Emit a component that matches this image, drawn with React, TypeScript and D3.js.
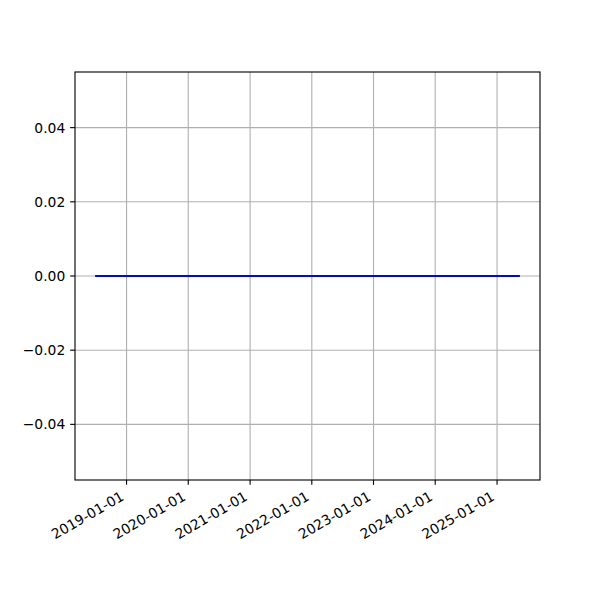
import React from "react";
import * as d3 from "d3";

const dates: string[] = ["2018-07-05", "2025-05-10"];
const values: number[] = [0, 0];
const xTickLabels: string[] = ["2019-01-01", "2020-01-01", "2021-01-01", "2022-01-01", "2023-01-01", "2024-01-01", "2025-01-01"];
const yTicks: number[] = [-0.04, -0.02, 0.0, 0.02, 0.04];

const W = 600, H = 600;
const L = 75, R = 540, T = 72, B = 480;
const FS = 13.89;
const FONT = "DejaVu Sans, sans-serif";

export default function App() {
  const parse = d3.utcParse("%Y-%m-%d");
  const pts = dates.map((d, i) => ({ x: parse(d)!, y: values[i] }));
  const x0 = pts[0].x.getTime(), x1 = pts[pts.length - 1].x.getTime();
  const pad = (x1 - x0) * 0.05;
  const x = d3.scaleUtc().domain([new Date(x0 - pad), new Date(x1 + pad)]).range([L, R]);
  const y = d3.scaleLinear().domain([-0.055, 0.055]).range([B, T]);
  const line = d3.line<{ x: Date; y: number }>().x(d => x(d.x)).y(d => y(d.y));
  const fmtY = (v: number) => (v < 0 ? "\u2212" : "") + Math.abs(v).toFixed(2);
  const tickLen = 4.86;
  return (
    <svg width={W} height={H} style={{ position: "absolute", left: 0, top: 0, background: "#fff" }} fontFamily={FONT} fontSize={FS}>
      <rect x={0} y={0} width={W} height={H} fill="#fff" />
      {xTickLabels.map(t => {
        const xx = x(parse(t)!);
        return <line key={"gx" + t} x1={xx} x2={xx} y1={T} y2={B} stroke="#b0b0b0" strokeWidth={1.11} />;
      })}
      {yTicks.map(v => (
        <line key={"gy" + v} x1={L} x2={R} y1={y(v)} y2={y(v)} stroke="#b0b0b0" strokeWidth={1.11} />
      ))}
      <path d={line(pts)!} fill="none" stroke="#0000ff" strokeWidth={2.08} strokeLinecap="square" />
      <rect x={L} y={T} width={R - L} height={B - T} fill="none" stroke="#000" strokeWidth={1.11} />
      {xTickLabels.map(t => {
        const xx = x(parse(t)!);
        const ax = xx - 1.6, ay = B + tickLen + 4.86 + 9.5;
        return (
          <g key={"tx" + t}>
            <line x1={xx} x2={xx} y1={B} y2={B + tickLen} stroke="#000" strokeWidth={1.11} />
            <text x={ax} y={ay} textAnchor="end" transform={`rotate(-30, ${ax}, ${ay})`} fill="#000">{t}</text>
          </g>
        );
      })}
      {yTicks.map(v => (
        <g key={"ty" + v}>
          <line x1={L - tickLen} x2={L} y1={y(v)} y2={y(v)} stroke="#000" strokeWidth={1.11} />
          <text x={L - tickLen - 4.86} y={y(v)} dy="0.36em" textAnchor="end" fill="#000">{fmtY(v)}</text>
        </g>
      ))}
    </svg>
  );
}
